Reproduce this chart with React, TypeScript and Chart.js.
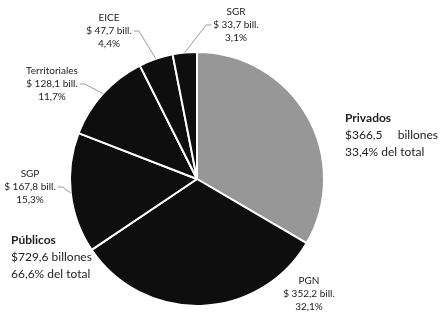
import React, { useEffect, useRef } from "react";
import { Chart, registerables } from "chart.js";

Chart.register(...registerables);

const categories = ["Privados", "PGN", "SGP", "Territoriales", "EICE", "SGR"];
const values = [366.5, 352.2, 167.8, 128.1, 47.7, 33.7];
const amountLabels = ["$366,5", "$ 352,2 bill.", "$ 167,8 bill.", "$ 128,1 bill.", "$ 47,7 bill.", "$ 33,7 bill."];
const percentLabels = ["33,4%", "32,1%", "15,3%", "11,7%", "4,4%", "3,1%"];
const sliceColors = ["#979797", "#0e0e0e", "#0e0e0e", "#0e0e0e", "#0e0e0e", "#0e0e0e"];

const groupTitles = ["Privados", "Públicos"];
const groupAmounts = ["$366,5", "$729,6 billones"];
const groupShares = ["33,4% del total", "66,6% del total"];

// label layout (text centre x, first line y, leader side)
const labelLayout: Record<string, { x: number; y: number; leader: "left" | "right" | "none" }> = {
  PGN: { x: 309, y: 281, leader: "none" },
  SGP: { x: 30, y: 174, leader: "right" },
  Territoriales: { x: 52, y: 71, leader: "right" },
  EICE: { x: 109, y: 18, leader: "right" },
  SGR: { x: 236, y: 12, leader: "left" },
};

const FONT = "Lato, 'Open Sans', sans-serif";

const labelPlugin = {
  id: "customLabels",
  afterDraw(chart: any) {
    const ctx = chart.ctx as CanvasRenderingContext2D;
    const meta = chart.getDatasetMeta(0);
    ctx.save();
    ctx.textBaseline = "middle";
    const lh = 13;
    categories.forEach((cat, i) => {
      const lay = labelLayout[cat];
      if (!lay) return;
      ctx.fillStyle = "#222";
      ctx.font = `10px ${FONT}`;
      ctx.textAlign = "center";
      ctx.fillText(cat, lay.x, lay.y);
      ctx.fillText(amountLabels[i], lay.x, lay.y + lh);
      ctx.fillText(percentLabels[i], lay.x, lay.y + 2 * lh);
      if (lay.leader !== "none") {
        const arc = meta.data[i];
        const mid = (arc.startAngle + arc.endAngle) / 2;
        const ex = arc.x + Math.cos(mid) * arc.outerRadius;
        const ey = arc.y + Math.sin(mid) * arc.outerRadius;
        const w = ctx.measureText(amountLabels[i]).width;
        const ly = lay.y + lh;
        const sx = lay.leader === "right" ? lay.x + w / 2 + 2 : lay.x - w / 2 - 2;
        const hx = lay.leader === "right" ? sx + 5 : sx - 5;
        ctx.strokeStyle = "#9a9a9a";
        ctx.lineWidth = 1;
        ctx.beginPath();
        ctx.moveTo(sx, ly);
        ctx.lineTo(hx, ly);
        ctx.lineTo(ex, ey);
        ctx.stroke();
      }
    });
    // group labels
    ctx.textAlign = "left";
    ctx.fillStyle = "#222";
    // Privados
    const px = 345;
    ctx.font = `bold 12px ${FONT}`;
    ctx.fillText(groupTitles[0], px, 118);
    ctx.font = `12px ${FONT}`;
    const shareW = ctx.measureText(groupShares[0]).width;
    ctx.fillText(groupAmounts[0], px, 135);
    ctx.textAlign = "right";
    ctx.fillText("billones", px + Math.max(shareW, 93), 135);
    ctx.textAlign = "left";
    ctx.fillText(groupShares[0], px, 152);
    // Públicos
    const qx = 11;
    ctx.font = `bold 12px ${FONT}`;
    ctx.fillText(groupTitles[1], qx, 240);
    ctx.font = `12px ${FONT}`;
    ctx.fillText(groupAmounts[1], qx, 257);
    ctx.fillText(groupShares[1], qx, 274);
    ctx.restore();
  },
};

export default function App() {
  const ref = useRef<HTMLCanvasElement | null>(null);
  useEffect(() => {
    if (!ref.current) return;
    const chart = new Chart(ref.current, {
      type: "pie",
      data: {
        labels: categories,
        datasets: [
          {
            data: values,
            backgroundColor: sliceColors,
            borderColor: "#ffffff",
            borderWidth: 2,
          },
        ],
      },
      options: {
        animation: false,
        responsive: false,
        maintainAspectRatio: false,
        layout: { padding: { left: 69, right: 119, top: 51, bottom: 7 } },
        plugins: {
          legend: { display: false },
          tooltip: { enabled: false },
        },
      },
      plugins: [labelPlugin],
    });
    return () => chart.destroy();
  }, []);
  return (
    <div style={{ position: "absolute", left: 0, top: 0, width: 444, height: 314, background: "#fff" }}>
      <canvas ref={ref} width={444} height={314} />
    </div>
  );
}
